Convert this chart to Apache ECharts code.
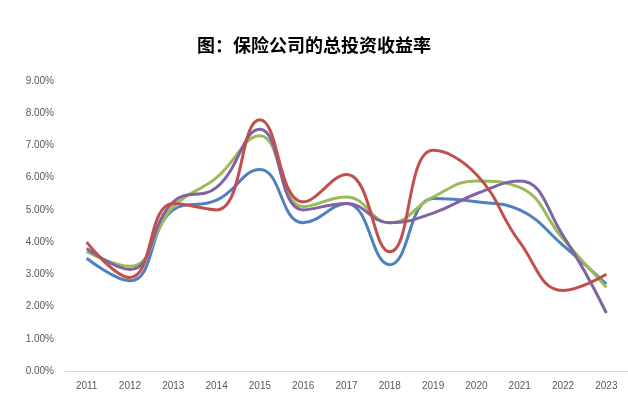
<!DOCTYPE html>
<html><head><meta charset="utf-8">
<script src="https://cdn.jsdelivr.net/npm/echarts@6/dist/echarts.min.js"></script>
<style>html,body{margin:0;padding:0;background:#fff}#c{width:628px;height:396px}</style>
</head><body><div id="c"></div>
<script>
const years = ['2011','2012','2013','2014','2015','2016','2017','2018','2019','2020','2021','2022','2023'];
const blueVals   = [3.5, 2.8, 5.0, 5.3, 6.25, 4.6, 5.2, 3.3, 5.35, 5.25, 5.0, 3.9, 2.7];
const redVals    = [4.0, 2.9, 5.2, 5.0, 7.8, 5.25, 6.1, 3.7, 6.85, 6.1, 4.0, 2.5, 3.0];
const greenVals  = [3.7, 3.25, 5.1, 6.0, 7.3, 5.1, 5.4, 4.6, 5.4, 5.9, 5.7, 4.1, 2.6];
const purpleVals = [3.8, 3.15, 5.25, 5.7, 7.5, 5.0, 5.2, 4.6, 4.9, 5.5, 5.9, 4.2, 1.8];
const titleText = '图：保险公司的总投资收益率';

const mk = (data, color) => ({
  type: 'line', data, smooth: 0.45, symbol: 'none',
  lineStyle: { color, width: 3 }, itemStyle: { color }
});
const chart = echarts.init(document.getElementById('c'), null, { renderer: 'canvas' });
chart.setOption({
  animation: false,
  title: { text: titleText, left: 'center', top: 31,
    textStyle: { fontFamily: 'Noto Sans CJK SC', fontSize: 18, fontWeight: 'bold', color: '#000' } },
  grid: { left: 65, right: -2, top: 81, bottom: 25, containLabel: false },
  xAxis: { type: 'category', data: years, boundaryGap: true,
    axisLine: { lineStyle: { color: '#d9d9d9' } }, axisTick: { show: false },
    axisLabel: { color: '#595959', fontSize: 10, margin: 10, fontFamily: 'Liberation Sans' } },
  yAxis: { type: 'value', min: 0, max: 9, interval: 1,
    axisLine: { show: false }, axisTick: { show: false }, splitLine: { show: false },
    axisLabel: { color: '#595959', fontSize: 10, margin: 11, fontFamily: 'Liberation Sans',
      formatter: v => v.toFixed(2) + '%' } },
  series: [
    mk(blueVals, '#4F81BD'),
    mk(greenVals, '#9BBB59'),
    mk(purpleVals, '#8064A2'),
    mk(redVals, '#C0504D')
  ]
});
</script></body></html>
